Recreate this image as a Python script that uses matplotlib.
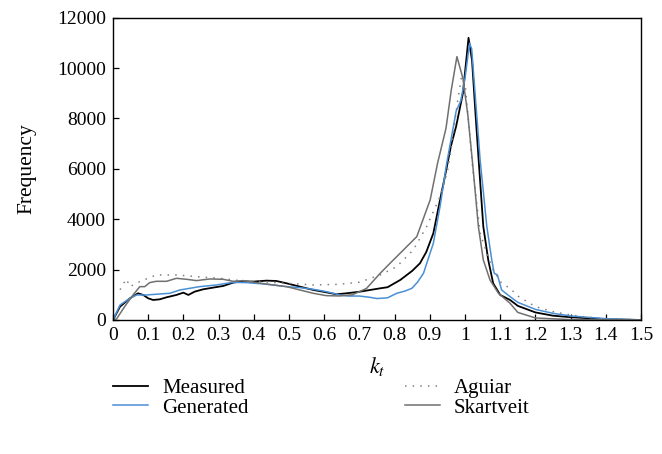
import matplotlib
matplotlib.use("Agg")
import matplotlib.pyplot as plt

# data (kt, frequency)
measured_k = [0, 0.02, 0.048, 0.071, 0.086, 0.1, 0.114, 0.133, 0.152, 0.18, 0.2, 0.214, 0.232,
              0.256, 0.284, 0.313, 0.341, 0.37, 0.398, 0.436, 0.464, 0.493, 0.531, 0.569, 0.606,
              0.635, 0.663, 0.7, 0.73, 0.759, 0.78, 0.816, 0.85, 0.872, 0.89, 0.91, 0.929, 0.943,
              0.96, 0.975, 0.994, 1.01, 1.02, 1.03, 1.039, 1.052, 1.066, 1.08, 1.1, 1.128, 1.15,
              1.2, 1.25, 1.3, 1.35, 1.4, 1.5]
measured_v = [0, 529, 860, 1059, 993, 860, 794, 820, 900, 993, 1085, 993, 1125,
              1217, 1284, 1350, 1482, 1535, 1522, 1562, 1548, 1456, 1323, 1191, 1098,
              1019, 1059, 1120, 1190, 1257, 1300, 1588, 1950, 2250, 2700, 3441, 4764, 5700,
              6900, 7700, 9000, 11200, 10300, 8138, 6300, 3705, 2382, 1456, 993, 794, 560,
              300, 170, 110, 70, 30, 0]

generated_k = [0, 0.02, 0.048, 0.067, 0.095, 0.133, 0.161, 0.19, 0.218, 0.246, 0.294, 0.341,
               0.379, 0.417, 0.455, 0.493, 0.531, 0.569, 0.606, 0.644, 0.668, 0.7, 0.73, 0.75,
               0.78, 0.806, 0.83, 0.849, 0.865, 0.882, 0.91, 0.929, 0.948, 0.962, 0.975, 0.988,
               1.0, 1.013, 1.019, 1.043, 1.062, 1.076, 1.083, 1.092, 1.104, 1.128, 1.15, 1.2,
               1.25, 1.3, 1.35, 1.4, 1.5]
generated_v = [0, 595, 860, 993, 993, 1032, 1059, 1191, 1257, 1323, 1390, 1496,
               1482, 1443, 1390, 1323, 1284, 1217, 1125, 993, 950, 950, 900, 850,
               880, 1059, 1150, 1257, 1500, 1853, 3044, 4500, 6220, 7300, 8300, 8700,
               9600, 10984, 10760, 6352, 3705, 2382, 1853, 1790, 1191, 926, 700, 420,
               264, 160, 105, 53, 0]

aguiar_k = [0.02, 0.029, 0.038, 0.048, 0.076, 0.123, 0.18, 0.237, 0.303, 0.36, 0.417, 0.493,
            0.569, 0.644, 0.7, 0.759, 0.806, 0.853, 0.891, 0.929, 0.95, 0.965, 0.978, 0.99,
            1.0, 1.011, 1.02, 1.043, 1.062, 1.08, 1.104, 1.128, 1.15, 1.2, 1.25, 1.3, 1.35,
            1.4, 1.5]
aguiar_v = [1200, 1429, 1628, 1323, 1522, 1787, 1787, 1720, 1654, 1562, 1522, 1456,
            1390, 1416, 1500, 1787, 2118, 2779, 3705, 4897, 5900, 7200, 8600, 9660,
            9400, 7740, 6280, 3441, 2647, 1985, 1456, 1257, 950, 530, 330, 200, 105,
            53, 0]

skartveit_k = [0, 0.01, 0.033, 0.057, 0.076, 0.09, 0.104, 0.123, 0.152, 0.18, 0.209, 0.237,
               0.275, 0.313, 0.341, 0.37, 0.408, 0.455, 0.493, 0.531, 0.569, 0.606, 0.644,
               0.68, 0.72, 0.759, 0.787, 0.825, 0.863, 0.901, 0.922, 0.946, 0.961, 0.977,
               0.994, 1.008, 1.022, 1.038, 1.052, 1.071, 1.095, 1.128, 1.15, 1.2, 1.3, 1.5]
skartveit_v = [0, 40, 529, 993, 1323, 1323, 1482, 1535, 1535, 1654, 1615, 1562,
               1628, 1615, 1535, 1562, 1482, 1390, 1323, 1191, 1059, 966, 953,
               1000, 1250, 1853, 2250, 2779, 3309, 4764, 6220, 7610, 9130, 10452,
               9594, 8138, 6153, 3705, 2382, 1588, 1059, 662, 300, 80, 15, 0]

x_ticks = [0, 0.1, 0.2, 0.3, 0.4, 0.5, 0.6, 0.7, 0.8, 0.9, 1.0, 1.1, 1.2, 1.3, 1.4, 1.5]
x_tick_labels = ["0", "0.1", "0.2", "0.3", "0.4", "0.5", "0.6", "0.7", "0.8", "0.9", "1",
                 "1.1", "1.2", "1.3", "1.4", "1.5"]
y_ticks = [0, 2000, 4000, 6000, 8000, 10000, 12000]

plt.rcParams['font.family'] = ['Liberation Serif', 'DejaVu Serif']
plt.rcParams['mathtext.fontset'] = 'stix'
plt.rcParams['font.size'] = 14

fig = plt.figure(figsize=(6.62, 4.54), dpi=100)
ax = fig.add_axes([0.1707, 0.2952, 0.7976, 0.6659])

l1, = ax.plot(measured_k, measured_v, color='black', lw=1.3, label='Measured')
l2, = ax.plot(generated_k, generated_v, color='#4a8fd6', lw=1.1, label='Generated')
l3, = ax.plot(aguiar_k, aguiar_v, color='#808080', lw=1.1, ls=(0, (1, 4)), label='Aguiar')
l4, = ax.plot(skartveit_k, skartveit_v, color='#707070', lw=1.1, label='Skartveit')

ax.set_xlim(0, 1.5)
ax.set_ylim(0, 12000)
ax.set_xticks(x_ticks)
ax.set_xticklabels(x_tick_labels)
ax.set_yticks(y_ticks)
ax.tick_params(direction='in', length=4, width=0.9, pad=5)
for s in ax.spines.values():
    s.set_linewidth(1.0)

ax.set_xlabel('$k_t$', fontsize=16, labelpad=8)
ax.set_ylabel('Frequency', fontsize=15.5, labelpad=15)

fig.legend(handles=[l1, l2, l3, l4], ncol=2, loc='upper left',
           bbox_to_anchor=(0.158, 0.185), frameon=False, fontsize=15,
           handlelength=1.7, handletextpad=0.65, columnspacing=7.5,
           labelspacing=0.0, borderaxespad=0)

fig.savefig('out.png', dpi=100)
